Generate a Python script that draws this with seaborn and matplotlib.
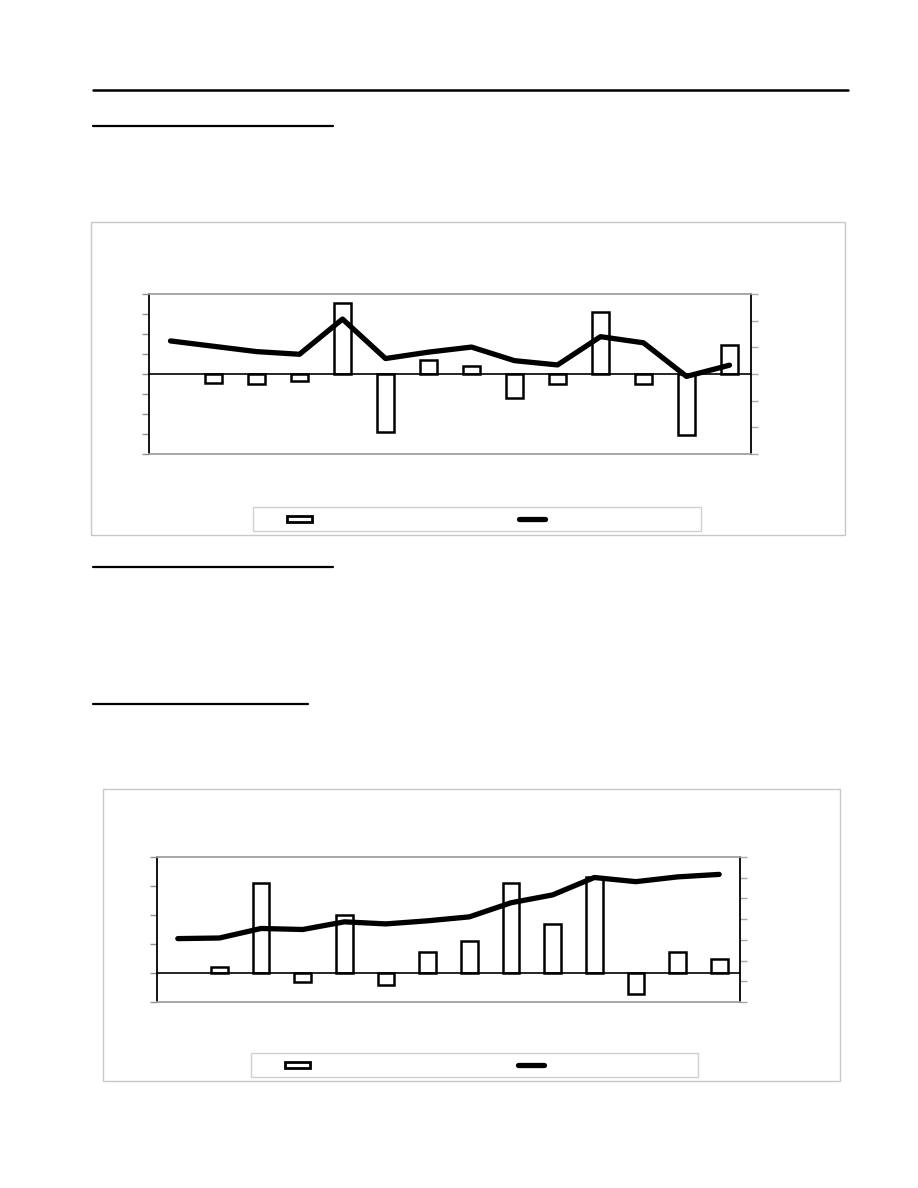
import numpy as np
import pandas as pd
import seaborn as sns
import matplotlib.pyplot as plt
from matplotlib.patches import Rectangle
from matplotlib.lines import Line2D

W, H = 918, 1188

# 14 periods, no labels readable on the page
periods = [str(i) for i in range(1, 15)]

# upper chart: bars on left axis, line on right axis (first period has no bar)
bars_top = [np.nan, -0.45, -0.48, -0.33, 3.55, -2.9, 0.72, 0.39, -1.18, -0.51, 3.12, -0.48, -3.03, 1.44]
line_top = [1.24, 1.04, 0.84, 0.74, 2.06, 0.58, 0.82, 1.01, 0.50, 0.34, 1.40, 1.17, -0.09, 0.33]

# lower chart
bars_bottom = [np.nan, 0.19, 3.10, -0.32, 2.0, -0.40, 0.72, 1.12, 3.09, 1.70, 3.3, -0.71, 0.74, 0.49]
line_bottom = [3.06, 3.09, 3.55, 3.50, 3.87, 3.77, 3.92, 4.11, 4.79, 5.17, 6.01, 5.81, 6.04, 6.16]


def fx(x):
    return x / W


def fy(y):
    return 1 - y / H


def px_rect(x0, y0, x1, y1):
    return [x0 / W, 1 - y1 / H, (x1 - x0) / W, (y1 - y0) / H]


def box(fig, x0, y0, x1, y1, color):
    fig.add_artist(Rectangle((fx(x0), fy(y1)), fx(x1) - fx(x0), fy(y0) - fy(y1),
                             transform=fig.transFigure, fill=False,
                             edgecolor=color, lw=1))


def draw_chart(fig, outer, plot, legend, bars, line, left_lim, left_step,
               right_lim, right_step, patch_x, line_x):
    box(fig, *outer, '#c8c8c8')

    ax = fig.add_axes(px_rect(*plot))
    df = pd.DataFrame({'period': periods, 'change': bars, 'level': line})
    sns.barplot(data=df, x='period', y='change', order=periods, color='white',
                saturation=1, edgecolor='black', linewidth=1.8, width=0.4, ax=ax)
    ax.set_ylim(left_lim)

    ax2 = ax.twinx()
    sns.lineplot(x=np.arange(len(periods)), y=df['level'], ax=ax2,
                 color='black', lw=3.8, solid_capstyle='round')
    ax2.set_ylim(right_lim)

    ax.set_xlim(-0.5, len(periods) - 0.5)
    ax.set_xticks(np.arange(0.5, len(periods) - 1, 1))
    ax.set_xticklabels([])
    ax.set_xlabel('')
    ax.set_ylabel('')
    ax2.set_ylabel('')
    ax.tick_params(axis='x', direction='inout', length=7, color='#c8c8c8', width=1)

    ax.set_yticks(np.arange(left_lim[0], left_lim[1] + 0.01, left_step))
    ax.set_yticklabels([])
    ax.tick_params(axis='y', direction='out', length=5, color='#909090', width=1)
    ax2.set_yticks(np.arange(right_lim[0], right_lim[1] + 0.01, right_step))
    ax2.set_yticklabels([])
    ax2.tick_params(axis='y', direction='out', length=5, color='#a8a8a8', width=1)

    ax.spines['top'].set_visible(False)
    ax.spines['right'].set_visible(False)
    ax.spines['left'].set_color('black')
    ax.spines['left'].set_linewidth(1.3)
    ax.spines['bottom'].set_position(('data', 0))
    ax.spines['bottom'].set_color('black')
    ax.spines['bottom'].set_linewidth(1.2)
    ax2.spines['left'].set_visible(False)
    ax2.spines['right'].set_color('black')
    ax2.spines['right'].set_linewidth(1.3)
    for side in ['top', 'bottom']:
        ax2.spines[side].set_color('#a0a0a0')
        ax2.spines[side].set_linewidth(1.3)
    ax.patch.set_alpha(0)

    # legend box with the two keys (labels are blank on the page)
    lx0, ly0, lx1, ly1 = legend
    box(fig, lx0, ly0, lx1, ly1, '#d0d0d0')
    mid = (ly0 + ly1) / 2
    fig.add_artist(Rectangle((fx(patch_x), fy(mid + 3)), fx(patch_x + 25) - fx(patch_x),
                             fy(mid - 3) - fy(mid + 3), transform=fig.transFigure,
                             facecolor='white', edgecolor='black', lw=2))
    fig.add_artist(Line2D([fx(line_x), fx(line_x + 26)], [fy(mid), fy(mid)],
                          transform=fig.transFigure, color='black', lw=3.8,
                          solid_capstyle='round'))


sns.set_style('white')
fig = plt.figure(figsize=(W / 100, H / 100), dpi=100)

# page rules
fig.add_artist(Line2D([fx(93), fx(848)], [fy(90), fy(90)], color='black', lw=1.8))
for y, x1 in [(126, 333), (567, 333), (704, 308)]:
    fig.add_artist(Line2D([fx(93), fx(x1)], [fy(y), fy(y)], color='black', lw=1.6))

draw_chart(fig, (91, 222, 845, 535), (149, 294, 751, 454), (253, 507, 701, 531),
           bars_top, line_top, (-4, 4), 1, (-3, 3), 1, 287, 519)

draw_chart(fig, (103, 789, 840, 1081), (157, 857, 740, 1002), (251, 1053, 698, 1077),
           bars_bottom, line_bottom, (-1, 4), 1, (0, 7), 1, 285, 518)

fig.savefig('out.png', dpi=100)
